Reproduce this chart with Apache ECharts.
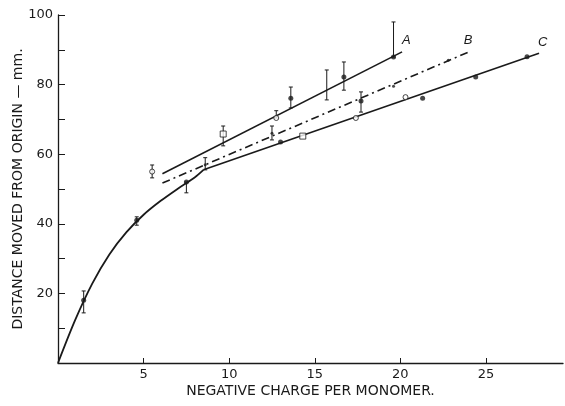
<!DOCTYPE html>
<html>
<head>
<meta charset="utf-8">
<script src="https://cdn.jsdelivr.net/npm/echarts@6/dist/echarts.min.js"></script>
<style>
    html, body { margin: 0; padding: 0; background: #fff; }
    #chart { width: 565px; height: 406px; }
</style>
</head>
<body>
<div id="chart"></div>
<script>
// main curve up to where the lines split off
const curveX = [0, 1, 2, 3, 4, 5, 6, 7, 8, 8.5];
const curveY = [0, 12.3, 22.8, 31.2, 37.6, 42.6, 46.6, 50.1, 53.4, 55.5];

// the three straight lines
const lineAX = [6.1, 20.1];
const lineAY = [54.4, 89.4];
const lineBX = [6.1, 24.0];
const lineBY = [51.7, 89.4];
const lineCX = [8.5, 28.1];
const lineCY = [55.5, 89];

// measured points
const filledX = [1.5, 4.6, 7.5, 13.0, 13.6, 16.7, 17.7, 19.6, 21.3, 24.4, 27.4];
const filledY = [18, 41, 52, 63.5, 76.1, 82.2, 75.3, 87.9, 76.1, 82.2, 88];
const smallX = [12.5, 22.8, 19.6, 8.6];
const smallY = [66, 87, 79.5, 57];
const openX = [12.75, 17.4, 20.3, 5.5];
const openY = [70.4, 70.4, 76.4, 55];
const squareX = [9.65, 14.3];
const squareY = [65.8, 65.2];

// error bars
const errX = [1.5, 4.6, 7.5, 5.5, 8.6, 9.65, 12.5, 13.6, 16.7, 15.7, 17.7, 19.6, 12.75];
const errLow = [14.4, 39.6, 48.9, 53.2, 55.5, 62.4, 64.1, 73.3, 78.4, 75.6, 72.1, 87.9, 70.4];
const errHigh = [20.7, 42, 52, 56.9, 59, 68.1, 68.1, 79.3, 86.5, 84.2, 77.9, 98, 72.5];

const xTicks = [5, 10, 15, 20, 25];
const yTicks = [10, 20, 30, 40, 50, 60, 70, 80, 90, 100];
const yLabels = [20, 40, 60, 80, 100];

const ink = "#1a1a1a";
const font = "DejaVu Sans";

const zip = (xs, ys) => xs.map((x, i) => [x, ys[i]]);

const chart = echarts.init(document.getElementById("chart"));

function lineSeries(name, xs, ys, type, label, offX) {
    return {
        name: name,
        type: "line",
        data: zip(xs, ys),
        showSymbol: false,
        silent: true,
        lineStyle: { color: ink, width: 1.6, type: type },
        endLabel: {
            show: !!label,
            formatter: label,
            color: ink,
            fontFamily: "Liberation Sans",
            fontStyle: "italic",
            fontSize: 13,
            distance: 0,
            offset: [offX || 0, -11],
        },
        z: 2,
    };
}

const option = {
    animation: false,
    backgroundColor: "#fff",
    grid: { left: 58, right: 2, top: 15, bottom: 43, outerBoundsMode: "none" },
    xAxis: {
        type: "value",
        min: 0,
        max: 29.5,
        name: "NEGATIVE CHARGE PER MONOMER.",
        nameLocation: "middle",
        nameGap: 21,
        nameMoveOverlap: false,
        nameTextStyle: { color: ink, fontFamily: font, fontSize: 14 },
        splitLine: { show: false },
        axisLine: { lineStyle: { color: ink, width: 1.3 } },
        axisTick: { inside: true, length: 5, customValues: xTicks, lineStyle: { color: ink } },
        axisLabel: { customValues: xTicks, color: ink, fontFamily: font, fontSize: 13, margin: 5 },
    },
    yAxis: {
        type: "value",
        min: 0,
        max: 100,
        name: "DISTANCE MOVED FROM ORIGIN \u2014 mm.",
        nameLocation: "middle",
        nameRotate: 90,
        nameGap: 33,
        nameMoveOverlap: false,
        nameTextStyle: { color: ink, fontFamily: font, fontSize: 14 },
        splitLine: { show: false },
        axisLine: { lineStyle: { color: ink, width: 1.3 } },
        axisTick: { inside: true, length: 7, customValues: yTicks, lineStyle: { color: ink } },
        axisLabel: { customValues: yLabels, color: ink, fontFamily: font, fontSize: 13, margin: 5 },
    },
    series: [
        {
            name: "curve",
            type: "line",
            data: zip(curveX, curveY),
            smooth: 0.3,
            showSymbol: false,
            silent: true,
            lineStyle: { color: ink, width: 1.8 },
        },
        lineSeries("A", lineAX, lineAY, "solid", "A", 0),
        lineSeries("B", lineBX, lineBY, [8, 4, 2, 4], "B", -5),
        lineSeries("C", lineCX, lineCY, "solid", "C", -1),
        {
            name: "errors",
            type: "custom",
            silent: true,
            data: errX.map((x, i) => [x, errLow[i], errHigh[i]]),
            renderItem: function (params, api) {
                const lo = api.coord([api.value(0), api.value(1)]);
                const hi = api.coord([api.value(0), api.value(2)]);
                const cap = 2;
                const style = { stroke: ink, lineWidth: 1 };
                return {
                    type: "group",
                    children: [
                        { type: "line", shape: { x1: lo[0], y1: lo[1], x2: hi[0], y2: hi[1] }, style: style },
                        { type: "line", shape: { x1: lo[0] - cap, y1: lo[1], x2: lo[0] + cap, y2: lo[1] }, style: style },
                        { type: "line", shape: { x1: hi[0] - cap, y1: hi[1], x2: hi[0] + cap, y2: hi[1] }, style: style },
                    ],
                };
            },
            z: 3,
        },
        {
            name: "filled",
            type: "scatter",
            data: zip(filledX, filledY),
            symbol: "circle",
            symbolSize: 5,
            itemStyle: { color: ink },
            z: 4,
        },
        {
            name: "small",
            type: "scatter",
            data: zip(smallX, smallY),
            symbol: "circle",
            symbolSize: 3,
            itemStyle: { color: ink },
            z: 4,
        },
        {
            name: "open",
            type: "scatter",
            data: zip(openX, openY),
            symbol: "circle",
            symbolSize: 5,
            itemStyle: { color: "#fff", borderColor: ink, borderWidth: 1 },
            z: 4,
        },
        {
            name: "square",
            type: "scatter",
            data: zip(squareX, squareY),
            symbol: "rect",
            symbolSize: 6,
            itemStyle: { color: "#fff", borderColor: ink, borderWidth: 1 },
            z: 4,
        },
    ],
};

chart.setOption(option);
</script>
</body>
</html>
